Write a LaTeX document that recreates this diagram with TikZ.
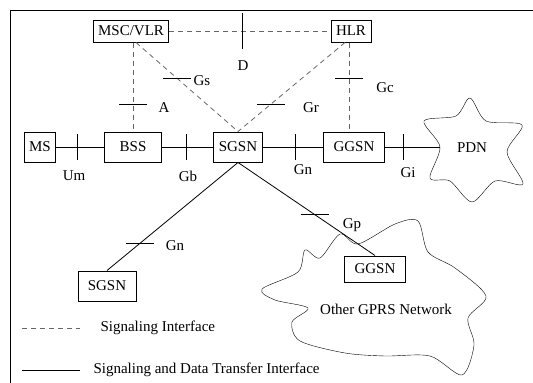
\documentclass[tikz,border=0pt]{standalone}
\usepackage{fontspec}
\setmainfont{Liberation Serif}
\usetikzlibrary{positioning}

\begin{document}
\begin{tikzpicture}[
    x=1pt, y=-1pt,
    font=\fontsize{15}{17}\selectfont,
    element/.style={
        rectangle,
        draw,
        line width=1pt,
        minimum height=30pt,
        inner xsep=5pt,
        align=center
    },
    signal/.style={
        draw=black!60,
        line width=0.8pt,
        dash pattern=on 5pt off 4pt
    },
    data/.style={line width=0.8pt},
    cloud/.style={line width=0.8pt, smooth cycle, tension=0.5}
]
\useasboundingbox (0,0) rectangle (533,383);
\draw[line width=1pt] (10,10) rectangle (560,400);

% clouds
\draw plot[cloud] coordinates {(440,147) (424,121) (456,116) (470,98) (486,121) (522,125)
    (507,152) (523,184) (495,181) (472,202) (450,181) (430,178)};
\draw plot[cloud] coordinates {(262,289) (298,272) (305,250) (320,258) (340,234) (358,244)
    (395,224) (418,221) (428,252) (455,268) (486,296) (468,318) (474,345) (462,375)
    (430,356) (385,356) (345,353) (300,341) (292,322) (308,308) (275,300)};

% nodes
\node[element, minimum height=22pt] (msc) at (131,31) {MSC/VLR};
\node[element, minimum height=22pt] (hlr) at (351,31) {HLR};
\node[element] (ms) at (40,147) {MS};
\node[element, minimum width=57pt] (bss) at (133,147) {BSS};
\node[element] (sgsn) at (238,147) {SGSN};
\node[element, minimum width=61pt] (ggsn) at (354,147) {GGSN};
\node (pdn) at (472,148) {PDN};
\coordinate (pdnin) at (440,147);
\node[element, minimum width=58pt] (sgsnb) at (107,286) {SGSN};
\node[element, minimum width=61pt, minimum height=26pt] (ggsnb) at (375,269) {GGSN};
\node (other) at (386,309) {Other GPRS Network};

% signaling interfaces
\draw[signal] (msc) -- coordinate[pos=0.45] (tD) (hlr);
\draw[signal] (bss.north |- msc.south) -- coordinate[pos=0.7] (tA) (bss.north);
\draw[signal] ([xshift=5pt]msc.south) -- coordinate[pos=0.4] (tGs) (sgsn.north);
\draw[signal] ([xshift=-6pt]hlr.south) -- coordinate[pos=0.69] (tGr) (sgsn.north);
\draw[signal] ([xshift=-2pt]hlr.south) -- coordinate[pos=0.4] (tGc) ([xshift=-2pt]hlr.south |- ggsn.north);

% signaling and data transfer interfaces
\draw[data] (ms) -- coordinate[pos=0.45] (tUm) (bss);
\draw[data] (bss) -- coordinate[pos=0.47] (tGb) (sgsn);
\draw[data] (sgsn) -- coordinate[pos=0.54] (tGn) (ggsn);
\draw[data] (ggsn) -- coordinate[pos=0.34] (tGi) (pdnin);
\draw[data] (sgsn.south) -- coordinate[pos=0.75] (tGnb) (sgsnb.north);
\draw[data] (sgsn.south) -- coordinate[pos=0.56] (tGp) (ggsnb.north);

% interface marks
\draw[data] ([yshift=-18pt]tD) -- ([yshift=18pt]tD);
\foreach \t in {tA, tGs, tGr, tGc, tGnb, tGp}
    \draw[data] ([xshift=-14pt]\t) -- ([xshift=14pt]\t);
\foreach \t in {tUm, tGb, tGn, tGi}
    \draw[data] ([yshift=-13pt]\t) -- ([yshift=13pt]\t);

% interface names
\node (lD) at (243,66) {D};
\node (lA) at (164,108) {A};
\node (lGs) at (202,81) {Gs};
\node (lGr) at (311,108) {Gr};
\node (lGc) at (385,88) {Gc};
\node (lUm) at (74,176) {Um};
\node (lGb) at (188,176) {Gb};
\node (lGn) at (303,170) {Gn};
\node (lGi) at (408,173) {Gi};
\node (lGnb) at (175,246) {Gn};
\node (lGp) at (352,225) {Gp};

% legend
\coordinate (sigA) at (22,328);
\coordinate (sigB) at (80,328);
\coordinate (datA) at (22,370);
\coordinate (datB) at (80,370);
\draw[signal] (sigA) -- (sigB);
\draw[data] (datA) -- (datB);
\node[anchor=west] (sigtext) at (97,328) {Signaling Interface};
\node[anchor=west] (dattext) at (90,370) {Signaling and Data Transfer Interface};

\end{tikzpicture}
\end{document}
